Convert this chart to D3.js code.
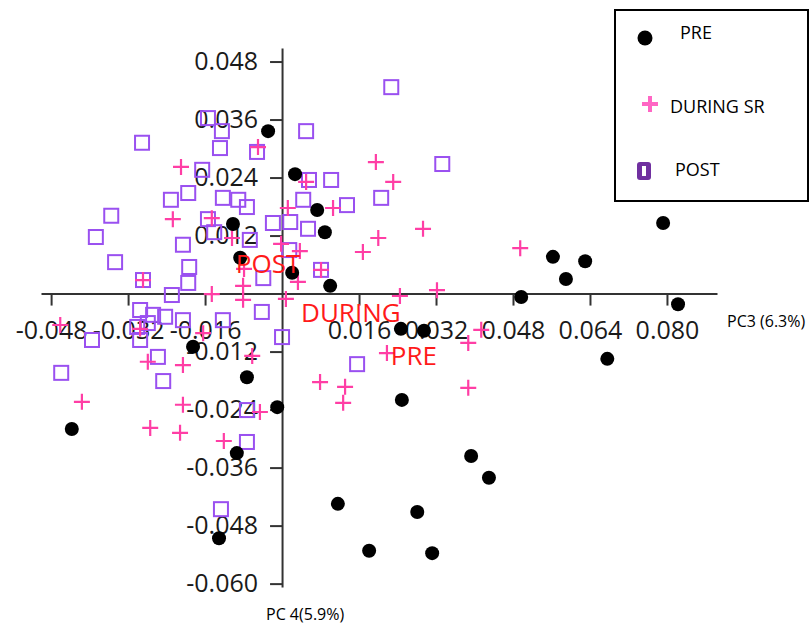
<!DOCTYPE html>
<html>
<head>
<meta charset="utf-8">
<script src="https://cdn.jsdelivr.net/npm/d3@7"></script>
<style>
  body { margin: 0; background: #fff; }
  svg text { font-family: "Open Sans", "Noto Sans", sans-serif; }
</style>
</head>
<body>
<svg id="chart" width="810" height="631"></svg>
<script>
// PCA scores, PC3 (x) vs PC4 (y), one pair of arrays per sampling period
const preX = [-0.0029, 0.0027, 0.0073, 0.0089, -0.0102, -0.0087, 0.0021, 0.0100, 0.0497, 0.0563,
              0.0590, 0.0630, 0.0792, 0.0823, 0.0676, 0.0247, 0.0295, 0.0249, 0.0393, 0.0430,
              0.0116, 0.0281, 0.0181, 0.0312, -0.0010, -0.0073, -0.0185, -0.0094, -0.0131, -0.0437];
const preY = [0.0336, 0.0247, 0.0173, 0.0127, 0.0144, 0.0074, 0.0043, 0.0016, -0.0007, 0.0076,
              0.0030, 0.0067, 0.0146, -0.0022, -0.0135, -0.0073, -0.0077, -0.0220, -0.0336, -0.0381,
              -0.0435, -0.0452, -0.0532, -0.0537, -0.0235, -0.0173, -0.0110, -0.0330, -0.0506, -0.0280];

const duringX = [-0.0050, -0.0210, 0.0195, 0.0231, 0.0050, 0.0012, 0.0106, -0.0227, -0.0146, -0.0104,
                 0.0293, 0.0200, 0.0168, 0.0037, -0.0002, 0.0081, -0.0079, -0.0081, 0.0033, -0.0146,
                 -0.0289, 0.0245, 0.0322, 0.0495, -0.0081, 0.0008, -0.0461, -0.0295, -0.0164, -0.0279,
                 -0.0206, -0.0062, -0.0416, -0.0206, -0.0046, -0.0274, -0.0212, -0.0121, 0.0079, 0.0131,
                 0.0127, 0.0387, 0.0218, 0.0387, 0.0414];
const duringY = [0.0303, 0.0262, 0.0272, 0.0231, 0.0231, 0.0177, 0.0177, 0.0154, 0.0156, 0.0115,
                 0.0134, 0.0115, 0.0086, 0.0088, 0.0103, 0.0049, 0.0051, 0.0016, 0.0024, -0.0001,
                 0.0028, -0.0005, 0.0007, 0.0094, -0.0013, -0.0011, -0.0065, -0.0073, -0.0082, -0.0141,
                 -0.0148, -0.0129, -0.0224, -0.0230, -0.0245, -0.0278, -0.0288, -0.0305, -0.0183, -0.0193,
                 -0.0226, -0.0195, -0.0123, -0.0102, -0.0075];

const postX = [0.0227, 0.0050, -0.0291, -0.0154, -0.0125, -0.0129, -0.0052, -0.0166, -0.0195, -0.0231,
               -0.0123, -0.0091, -0.0073, -0.0355, -0.0387, -0.0154, -0.0141, -0.0206, -0.0347, -0.0193,
               -0.0289, -0.0195, -0.0229, -0.0019, -0.0039, 0.0056, 0.0102, 0.0206, 0.0135, 0.0044,
               0.0017, 0.0054, 0.0015, 0.0081, 0.0333, -0.0067, -0.0295, -0.0268, -0.0243, -0.0301,
               -0.0279, -0.0295, -0.0395, -0.0206, -0.0123, -0.0042, 0.0000, -0.0258, -0.0247, -0.0459,
               -0.0073, -0.0073, -0.0127, 0.0156];
const postY = [0.0427, 0.0336, 0.0312, 0.0363, 0.0336, 0.0301, 0.0293, 0.0256, 0.0208, 0.0194,
               0.0198, 0.0194, 0.0179, 0.0161, 0.0117, 0.0154, 0.0127, 0.0101, 0.0065, 0.0055,
               0.0028, 0.0022, -0.0003, 0.0146, 0.0032, 0.0235, 0.0235, 0.0198, 0.0183, 0.0194,
               0.0148, 0.0134, 0.0090, 0.0049, 0.0268, 0.0111, -0.0034, -0.0044, -0.0048, -0.0069,
               -0.0061, -0.0096, -0.0096, -0.0055, -0.0055, -0.0038, -0.0090, -0.0131, -0.0181, -0.0164,
               -0.0241, -0.0307, -0.0446, -0.0146];

// group centroid labels
const centroidNames = ["POST", "DURING", "PRE"];
const centroidX = [-0.0029, 0.0143, 0.0274];
const centroidY = [0.0062, -0.0039, -0.0128];

const legendNames = ["PRE", "DURING SR", "POST"];
const xTicks = [-0.048, -0.032, -0.016, 0.016, 0.032, 0.048, 0.064, 0.080];
const yTicks = [0.048, 0.036, 0.024, 0.012, -0.012, -0.024, -0.036, -0.048, -0.060];
const xTitle = "PC3 (6.3%)";
const yTitle = "PC 4(5.9%)";

const svg = d3.select("#chart");

const x = d3.scaleLinear().domain([-0.0501, 0.0904]).range([41, 717]);
const y = d3.scaleLinear().domain([-0.0607, 0.0508]).range([587, 48]);

const fmt = d => d.toFixed(3);

// axes cross at the origin
const xAxis = svg.append("g")
  .attr("transform", `translate(0,${y(0)})`)
  .call(d3.axisBottom(x).tickValues(xTicks).tickSize(12).tickSizeOuter(0)
        .tickPadding(16).tickFormat(fmt));
const yAxis = svg.append("g")
  .attr("transform", `translate(${x(0)},0)`)
  .call(d3.axisLeft(y).tickValues(yTicks).tickSize(12).tickSizeOuter(0)
        .tickPadding(12).tickFormat(fmt));

[xAxis, yAxis].forEach(g => {
  g.select(".domain").attr("stroke", "#333").attr("stroke-width", 2);
  g.selectAll(".tick line").attr("stroke", "#333").attr("stroke-width", 2);
  g.selectAll(".tick text")
    .attr("font-family", "'Open Sans', 'Noto Sans', sans-serif")
    .attr("font-size", 25).attr("fill", "#1a1a1a");
});

const plot = svg.append("g");

// POST: open squares
const post = d3.zip(postX, postY);
plot.selectAll("rect.post").data(post).join("rect")
  .attr("class", "post")
  .attr("x", d => x(d[0]) - 7).attr("y", d => y(d[1]) - 7)
  .attr("width", 14).attr("height", 14)
  .attr("fill", "none").attr("stroke", "#9a50f0").attr("stroke-width", 2);

// DURING: plus signs
const during = d3.zip(duringX, duringY);
plot.selectAll("path.during").data(during).join("path")
  .attr("class", "during")
  .attr("transform", d => `translate(${x(d[0])},${y(d[1])})`)
  .attr("d", "M-8,0H8M0,-8V8")
  .attr("fill", "none").attr("stroke", "#ff3ea5").attr("stroke-width", 2.2);

// PRE: filled circles
const pre = d3.zip(preX, preY);
plot.selectAll("circle.pre").data(pre).join("circle")
  .attr("class", "pre")
  .attr("cx", d => x(d[0])).attr("cy", d => y(d[1]))
  .attr("r", 7).attr("fill", "#000");

// centroid labels
svg.append("g").selectAll("text").data(centroidNames).join("text")
  .attr("x", (d, i) => x(centroidX[i]))
  .attr("y", (d, i) => y(centroidY[i]))
  .attr("dy", "0.36em")
  .attr("text-anchor", "middle")
  .attr("font-size", 26)
  .attr("fill", "#ff1a1a")
  .text(d => d);

// axis titles
svg.append("text").attr("x", 727).attr("y", 327).attr("font-size", 16)
  .attr("fill", "#000").text(xTitle);
svg.append("text").attr("x", 266).attr("y", 620).attr("font-size", 16)
  .attr("fill", "#000").text(yTitle);

// legend
const lg = svg.append("g");
lg.append("rect").attr("x", 615).attr("y", 10).attr("width", 193).attr("height", 191)
  .attr("fill", "#fff").attr("stroke", "#000").attr("stroke-width", 2);
lg.append("circle").attr("cx", 645).attr("cy", 38).attr("r", 7.5).attr("fill", "#000");
lg.append("path").attr("transform", "translate(650,104)").attr("d", "M-8,0H8M0,-8V8")
  .attr("stroke", "#ff66c4").attr("stroke-width", 4).attr("fill", "none");
lg.append("rect").attr("x", 637).attr("y", 162).attr("width", 14).attr("height", 18)
  .attr("rx", 3).attr("fill", "#7030a0");
lg.append("rect").attr("x", 642).attr("y", 166).attr("width", 4).attr("height", 10)
  .attr("fill", "#fff");
const legendPos = [[680, 39], [670, 113], [675, 176]];
lg.selectAll("text.lab").data(legendNames).join("text")
  .attr("class", "lab")
  .attr("x", (d, i) => legendPos[i][0]).attr("y", (d, i) => legendPos[i][1])
  .attr("font-size", 18).attr("fill", "#000")
  .text(d => d);
</script>
</body>
</html>
